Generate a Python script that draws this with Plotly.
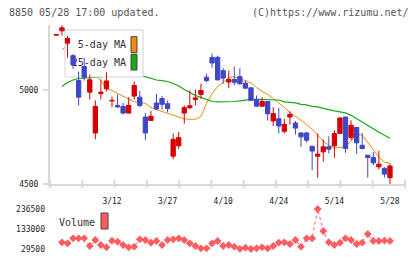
import plotly.graph_objects as go

# ---------------- data ----------------
day_idx = list(range(61))
tick_idx = [10, 20, 30, 40, 50, 60]
tick_text = ["3/12", "3/27", "4/10", "4/24", "5/14", "5/28"]

open_ = [5296, 5319, 5253, 5186, 5053, 5128, 4991, 4773, 4984, 5009,
         4944, 4920, 4915, 4879, 4970, 4964, 4858, 4840, 4933, 4957,
         4929, 4649, 4704, 4879, 4908, 4952, 4979, 5071, 5177, 5177,
         5106, 5045, 5059, 5074, 5039, 5014, 4952, 4916, 4941, 4837,
         4849, 4782, 4858, 4826, 4773, 4773, 4702, 4649, 4672, 4699,
         4704, 4770, 4858, 4748, 4802, 4707, 4654, 4642, 4592, 4584,
         4534]
close = [5298, 5335, 5278, 5136, 4964, 5071, 5057, 4915, 4991, 5051,
         4947, 4912, 4879, 4920, 5027, 4920, 4773, 4862, 4901, 4926,
         4904, 4739, 4748, 4908, 4918, 4960, 5000, 5053, 5147, 5057,
         5066, 5059, 5044, 5036, 5012, 4947, 4916, 4941, 4876, 4876,
         4810, 4819, 4872, 4799, 4752, 4734, 4676, 4660, 4699, 4686,
         4770, 4853, 4690, 4814, 4720, 4690, 4642, 4613, 4606, 4553,
         4596]
high = [5300, 5348, 5290, 5195, 5101, 5174, 5085, 4947, 5059, 5097,
        4968, 4979, 4933, 4964, 5048, 4997, 4879, 4890, 4982, 4971,
        4947, 4770, 4778, 4920, 5000, 5005, 5035, 5089, 5198, 5186,
        5119, 5106, 5128, 5119, 5053, 5018, 4973, 4964, 4942, 4911,
        4906, 4849, 4888, 4837, 4775, 4778, 4702, 4770, 4738, 4755,
        4787, 4855, 4860, 4840, 4803, 4773, 4656, 4672, 4677, 4589,
        4610]
low = [5295, 5293, 5176, 5115, 4920, 5053, 4952, 4739, 4952, 4995,
       4911, 4907, 4872, 4877, 4952, 4911, 4734, 4837, 4894, 4897,
       4883, 4632, 4687, 4823, 4899, 4920, 4956, 5044, 5122, 5053,
       5036, 5012, 5027, 5030, 5009, 4945, 4915, 4914, 4840, 4810,
       4770, 4770, 4818, 4764, 4699, 4722, 4574, 4534, 4619, 4663,
       4640, 4768, 4667, 4734, 4660, 4685, 4534, 4601, 4578, 4534,
       4500]
ma5 = [None, 5218, 5239, 5202, 5170, 5138, 5112, 5085, 5053, 5011,
       5000, 4984, 4968, 4955, 4939, 4936, 4931, 4910, 4896, 4888,
       4878, 4867, 4856, 4848, 4846, 4846, 4862, 4931, 4984, 5021,
       5043, 5069, 5074, 5061, 5053, 5040, 5016, 4995, 4979, 4957,
       4936, 4910, 4883, 4862, 4840, 4819, 4793, 4761, 4729, 4707,
       4694, 4694, 4702, 4729, 4766, 4761, 4723, 4681, 4644, 4617,
       4612]
ma25 = [None, 5021, 5043, 5056, 5064, 5066, 5069, 5069, 5072, 5074,
        5077, 5080, 5080, 5080, 5080, 5077, 5074, 5064, 5056, 5053,
        5048, 5037, 5024, 5005, 4989, 4973, 4963, 4952, 4941, 4939,
        4939, 4939, 4941, 4944, 4949, 4952, 4952, 4952, 4952, 4952,
        4949, 4939, 4936, 4934, 4926, 4923, 4915, 4912, 4904, 4896,
        4891, 4886, 4880, 4867, 4848, 4830, 4814, 4795, 4777, 4761,
        4745]
volume = [None, 64200, 59000, 84900, 85000, 84900, 45000, 76100, 50200, 38300,
          72500, 67300, 50200, 38300, 41400, 79700, 76100, 62100, 70900, 50200,
          76100, 79700, 84900, 76100, 59000, 45000, 33100, 33100, 59000, 70900,
          45000, 50200, 41400, 30500, 36200, 29500, 33100, 38300, 33100, 45000,
          62100, 64200, 55400, 76100, 41400, 84900, 84900, 236500, 122600, 64200,
          50200, 62100, 84900, 76100, 55400, 62100, 107100, 70900, 70900, 72500,
          70900]
price_ticks = [4500, 5000]
vol_ticks = [29500, 133000, 236500]

# ---------------- geometry / style ----------------
W, H = 420, 259
ML, MR, MT, MB = 50, 15, 25, 10
PW, PH = W - ML - MR, H - MT - MB
MAIN_BOTTOM_PX = 184
VOL_TOP_PX = 209


def fy_paper(py):
    return (H - MB - py) / PH


def fx_paper(px):
    return (px - ML) / PW


def fx_main(px):
    return (px - ML) / PW


def fy_main(py):
    return (MAIN_BOTTOM_PX - py) / (MAIN_BOTTOM_PX - MT)


XR = [-1.151, 62.70]
YR = [4500, 5350]
MONO = "DejaVu Sans Mono"
RED = "#d60000"
BLUE = "#3f47c8"
ORANGE = "#f08a0c"
GREEN = "#18a818"
PINK = "#ff5c60"
AXC = "#d9d9d9"

fig = go.Figure()

# moving averages (bottom layer)
fig.add_trace(go.Scatter(x=day_idx, y=ma5, mode="lines", xaxis="x", yaxis="y",
                         line=dict(color=ORANGE, width=1), hoverinfo="skip"))
fig.add_trace(go.Scatter(x=day_idx, y=ma25, mode="lines", xaxis="x", yaxis="y",
                         line=dict(color=GREEN, width=1.2), hoverinfo="skip"))

# legend box (between lines and candles)
bx0, bx1 = fx_main(65), fx_main(143)
by0, by1 = fy_main(77), fy_main(30)
fig.add_trace(go.Scatter(x=[bx0, bx1, bx1, bx0, bx0], y=[by0, by0, by1, by1, by0],
                         mode="lines", fill="toself", fillcolor="white",
                         line=dict(color="#d2d2d2", width=1),
                         xaxis="x3", yaxis="y3", hoverinfo="skip"))
fig.add_trace(go.Scatter(x=[fx_main(126), fx_main(126)], y=[fy_main(45.5), fy_main(63)],
                         mode="text", text=["5-day MA", "25-day MA"],
                         textposition="middle left",
                         textfont=dict(family=MONO, size=10, color="#333"),
                         xaxis="x3", yaxis="y3", hoverinfo="skip"))
for col, ya, yb in [(ORANGE, 36.7, 52.7), (GREEN, 54.3, 70)]:
    sx0, sx1 = fx_main(131), fx_main(137)
    sy0, sy1 = fy_main(yb), fy_main(ya)
    fig.add_trace(go.Scatter(x=[sx0, sx1, sx1, sx0, sx0], y=[sy0, sy0, sy1, sy1, sy0],
                             mode="lines", fill="toself", fillcolor=col,
                             line=dict(color="#444", width=1),
                             xaxis="x3", yaxis="y3", hoverinfo="skip"))

# candles (top layer)
fig.add_trace(go.Candlestick(x=day_idx, open=open_, high=high, low=low, close=close,
                             xaxis="x4", yaxis="y4", whiskerwidth=0,
                             increasing=dict(line=dict(color=RED, width=1), fillcolor=RED),
                             decreasing=dict(line=dict(color=BLUE, width=1), fillcolor=BLUE),
                             hoverinfo="skip"))

# volume
fig.add_trace(go.Scatter(x=day_idx, y=volume, mode="lines+markers", xaxis="x2", yaxis="y2",
                         line=dict(color=PINK, width=1, dash="dot"),
                         marker=dict(symbol="diamond", size=6, color=PINK),
                         cliponaxis=False, hoverinfo="skip"))

main_dom = [fy_paper(MAIN_BOTTOM_PX), 1]
vol_dom = [0, fy_paper(VOL_TOP_PX)]

shapes = []
for k in range(12):
    shapes.append(dict(type="line", xref="paper", yref="paper",
                       x0=k / 11, x1=k / 11, y0=fy_paper(180), y1=fy_paper(188),
                       line=dict(color=AXC, width=2)))
shapes.append(dict(type="rect", xref="paper", yref="paper",
                   x0=fx_paper(101), x1=fx_paper(108), y0=fy_paper(229), y1=fy_paper(213),
                   fillcolor=PINK, line=dict(color="#444", width=1)))

annotations = [
    dict(text="8850 05/28 17:00 updated.", xref="paper", yref="paper",
         x=fx_paper(7), y=fy_paper(12), xanchor="left", yanchor="middle",
         showarrow=False, font=dict(family=MONO, size=10, color="#555")),
    dict(text="(C)https://www.rizumu.net/", xref="paper", yref="paper",
         x=fx_paper(411), y=fy_paper(12), xanchor="right", yanchor="middle",
         showarrow=False, font=dict(family=MONO, size=10, color="#555")),
    dict(text="Volume", xref="paper", yref="paper",
         x=fx_paper(57), y=fy_paper(222), xanchor="left", yanchor="middle",
         showarrow=False, font=dict(family=MONO, size=10, color="#333")),
]

fig.update_layout(
    width=W, height=H, margin=dict(l=ML, r=MR, t=MT, b=MB, autoexpand=False),
    paper_bgcolor="white", plot_bgcolor="white", showlegend=False,
    boxgap=0.12, boxgroupgap=0.12,
    shapes=shapes, annotations=annotations,
    xaxis=dict(domain=[0, 1], range=XR, anchor="y", showgrid=False, zeroline=False,
               showline=True, linecolor=AXC, linewidth=2, automargin=False,
               tickmode="array", tickvals=tick_idx, ticktext=tick_text, ticks="",
               ticklabelstandoff=8,
               tickfont=dict(family=MONO, size=8, color="#222"),
               rangeslider=dict(visible=False)),
    yaxis=dict(domain=main_dom, range=YR, anchor="x", showgrid=False, zeroline=False,
               showline=True, linecolor=AXC, linewidth=2, automargin=False,
               tickmode="array", tickvals=price_ticks, ticks="outside", ticklen=5,
               tickcolor=AXC, tickwidth=2, ticklabelstandoff=3,
               tickfont=dict(family=MONO, size=8, color="#222")),
    xaxis2=dict(domain=[0, 1], range=XR, anchor="y2", visible=False, automargin=False,
                rangeslider=dict(visible=False)),
    yaxis2=dict(domain=vol_dom, range=[29500, 236500], anchor="x2", showgrid=False,
                zeroline=False, showline=False, tickmode="array", tickvals=vol_ticks,
                tickformat="d", ticks="", ticklabelstandoff=4, automargin=False,
                tickfont=dict(family=MONO, size=8, color="#222")),
    xaxis3=dict(overlaying="x", range=[0, 1], visible=False, anchor="y3",
                rangeslider=dict(visible=False)),
    yaxis3=dict(overlaying="y", range=[0, 1], visible=False, anchor="x3"),
    xaxis4=dict(overlaying="x", range=XR, visible=False, anchor="y4",
                rangeslider=dict(visible=False)),
    yaxis4=dict(overlaying="y", range=YR, visible=False, anchor="x4"),
)

fig.write_html("out.html")
